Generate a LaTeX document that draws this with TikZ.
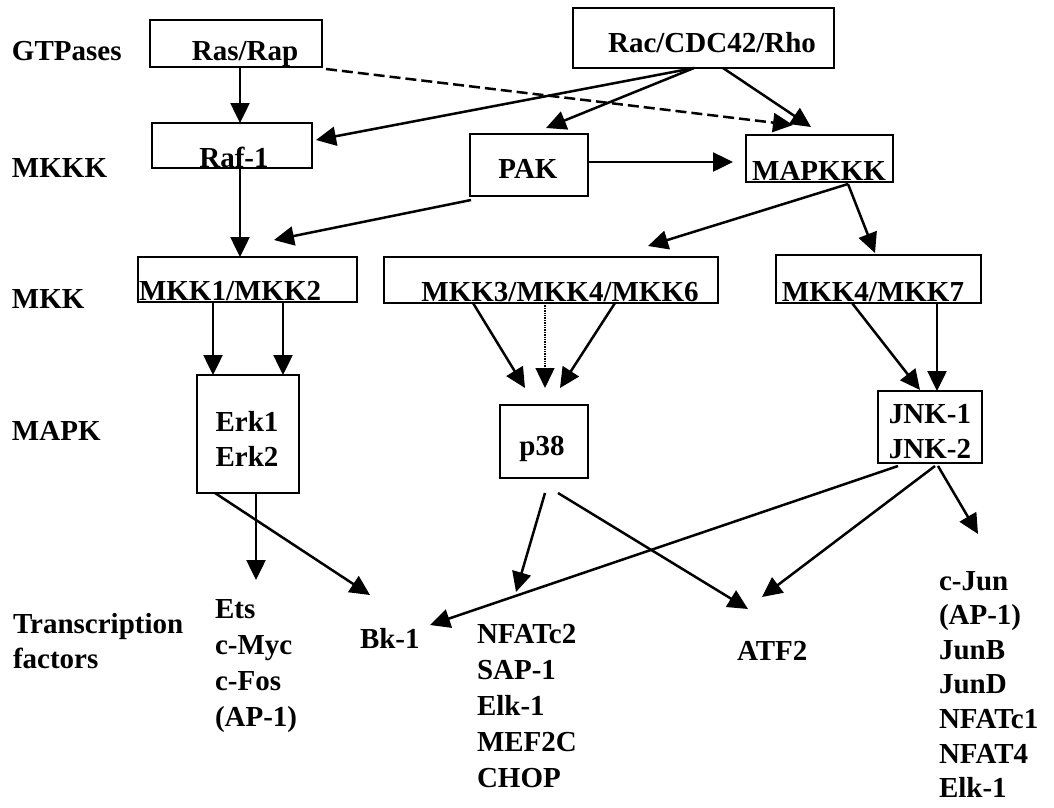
\documentclass[tikz,border=0pt]{standalone}
\usepackage{fontspec}
\setmainfont{Liberation Serif}
\usetikzlibrary{arrows.meta,calc}
\begin{document}
\begin{tikzpicture}[x=1pt,y=-1pt,
  font=\fontsize{29}{35}\selectfont\bfseries,
  box/.style={draw, line width=2.6pt, inner sep=0pt, outer sep=0pt},
  lbl/.style={inner sep=0pt, outer sep=0pt},
  arr/.style={line width=2.5pt, -{Triangle[length=20pt,width=19pt]}},
  dasharr/.style={arr, dash pattern=on 11pt off 5pt},
  dotarr/.style={line width=1.4pt, densely dotted, -{Triangle[length=20pt,width=19pt]}}]
\useasboundingbox[fill=white] (0,0) rectangle (1054,807);

% row labels
\node[lbl, anchor=base west] (lgtp) at (12,60) {GTPases};
\node[lbl, anchor=base west] (lmkkk) at (12,177) {MKKK};
\node[lbl, anchor=base west] (lmkk) at (12,308) {MKK};
\node[lbl, anchor=base west] (lmapk) at (12,440) {MAPK};
\node[lbl, anchor=base west] (ltf) at (13,633) {\vtop{\baselineskip=35pt\hbox{Transcription}\hbox{factors}}};

% boxes
\node[box, minimum width=172pt, minimum height=47pt] (ras) at (236,43.5) {};
\node[lbl, anchor=base] (rast) at (245,60) {Ras/Rap};
\node[box, minimum width=261pt, minimum height=60pt] (rac) at (703.5,38) {};
\node[lbl, anchor=base] (ract) at (712,52) {Rac/CDC42/Rho};
\node[box, minimum width=160pt, minimum height=45pt] (raf) at (232,145.5) {};
\node[lbl, anchor=base] (raft) at (234,167) {Raf-1};
\node[box, minimum width=118pt, minimum height=62pt] (pak) at (529,165) {};
\node[lbl, anchor=base] (pakt) at (528,178) {PAK};
\node[box, minimum width=147pt, minimum height=47pt] (mapkkk) at (819.5,158.5) {};
\node[lbl, anchor=base] (mapkkkt) at (819,180) {MAPKKK};
\node[box, minimum width=219pt, minimum height=45pt] (mkk12) at (247.5,279.5) {};
\node[lbl, anchor=base west] (mkk12t) at (139,300) {MKK1/MKK2};
\node[box, minimum width=334pt, minimum height=46pt] (mkk346) at (551,280) {};
\node[lbl, anchor=base] (mkk346t) at (560,301) {MKK3/MKK4/MKK6};
\node[box, minimum width=205pt, minimum height=48pt] (mkk47) at (878.5,279) {};
\node[lbl, anchor=base] (mkk47t) at (873,301) {MKK4/MKK7};
\node[box, minimum width=102pt, minimum height=118pt] (erk) at (248,434) {};
\node[lbl, anchor=base] (erk1) at (247,431) {Erk1};
\node[lbl, anchor=base] (erk2) at (247,466) {Erk2};
\node[box, minimum width=88pt, minimum height=73pt] (p38) at (544,441.5) {};
\node[lbl, anchor=base] (p38t) at (542,455) {p38};
\node[box, minimum width=104pt, minimum height=72pt] (jnk) at (930,427) {};
\node[lbl, anchor=base] (jnk1) at (930,423) {JNK-1};
\node[lbl, anchor=base] (jnk2) at (930,458) {JNK-2};

% transcription factors
\node[lbl, anchor=base west] (ets) at (215,618) {\vtop{\baselineskip=36pt\hbox{Ets}\hbox{c-Myc}\hbox{c-Fos}\hbox{(AP-1)}}};
\node[lbl, anchor=base west] (bk) at (360,648) {Bk-1};
\node[lbl, anchor=base west] (nfat) at (477,643) {\vtop{\baselineskip=36pt\hbox{NFATc2}\hbox{SAP-1}\hbox{Elk-1}\hbox{MEF2C}\hbox{CHOP}}};
\node[lbl, anchor=base west] (atf) at (737,660) {ATF2};
\node[lbl, anchor=base west] (cjun) at (939,590) {\vtop{\baselineskip=34.6pt\hbox{c-Jun}\hbox{(AP-1)}\hbox{JunB}\hbox{JunD}\hbox{NFATc1}\hbox{NFAT4}\hbox{Elk-1}}};

% connectors
\draw[arr] ($(ras.south)+(4,0)$) -- ($(raf.north)+(8,0)$);
\draw[arr] ($(rac.south)+(-9.5,0)$) -- ($(raf.east)+(4,-5.5)$);
\draw[arr] ($(rac.south)+(-9.5,0)$) -- ($(pak.north)+(17,-6)$);
\draw[arr] ($(rac.south)+(19.5,0)$) -- ($(mapkkk.north)+(-8.5,-8)$);
\draw[dasharr] ($(ras.south east)+(4,2)$) -- ($(mapkkk.north)+(-26.5,-10)$);
\draw[arr] ($(raf.south)+(8,0)$) -- ($(mkk12.north)+(-7.5,0)$);
\draw[arr] ($(pak.south west)+(1,4)$) -- ($(mkk12.north)+(26.5,-17)$);
\draw[arr] ($(pak.east)+(0,-3)$) -- ($(mapkkk.west)+(-13,3.5)$);
\draw[arr] ($(mapkkk.south)+(28.5,2)$) -- ($(mkk346.north)+(97,-11)$);
\draw[arr] ($(mapkkk.south)+(28.5,2)$) -- ($(mkk47.north)+(-3.5,-2)$);
\draw[arr] ($(mkk12.south)+(-34.5,0)$) -- ($(erk.north)+(-35,0)$);
\draw[arr] ($(mkk12.south)+(35.5,0)$) -- ($(erk.north)+(35,0)$);
\draw[arr] ($(mkk346.south)+(-78,0)$) -- ($(p38.north)+(-19,-17)$);
\draw[dotarr] ($(mkk346.south)+(-6,0)$) -- ($(p38.north)+(1,-17)$);
\draw[arr] ($(mkk346.south)+(64,0)$) -- ($(p38.north)+(16,-17)$);
\draw[arr] ($(mkk47.south)+(-26.5,0)$) -- ($(jnk.north)+(-10,-1)$);
\draw[arr] ($(mkk47.south)+(58.5,0)$) -- ($(jnk.north)+(7,0)$);
\draw[arr] ($(erk.south)+(8,0)$) -- ($(ets.base west)+(41,-38)$);
\draw[arr] ($(erk.south west)+(18,0)$) -- ($(bk.base west)+(10,-53)$);
\draw[arr] ($(p38.south)+(1,15)$) -- ($(nfat.base west)+(39,-51)$);
\draw[arr] ($(p38.south)+(14,15)$) -- ($(atf.base west)+(11,-51)$);
\draw[arr] ($(jnk.south)+(-32,3)$) -- ($(bk.base west)+(70,-23)$);
\draw[arr] ($(jnk.south)+(5,3)$) -- ($(atf.base west)+(25,-63)$);
\draw[arr] ($(jnk.south)+(8,3)$) -- ($(cjun.base west)+(39,-56)$);
\end{tikzpicture}
\end{document}
